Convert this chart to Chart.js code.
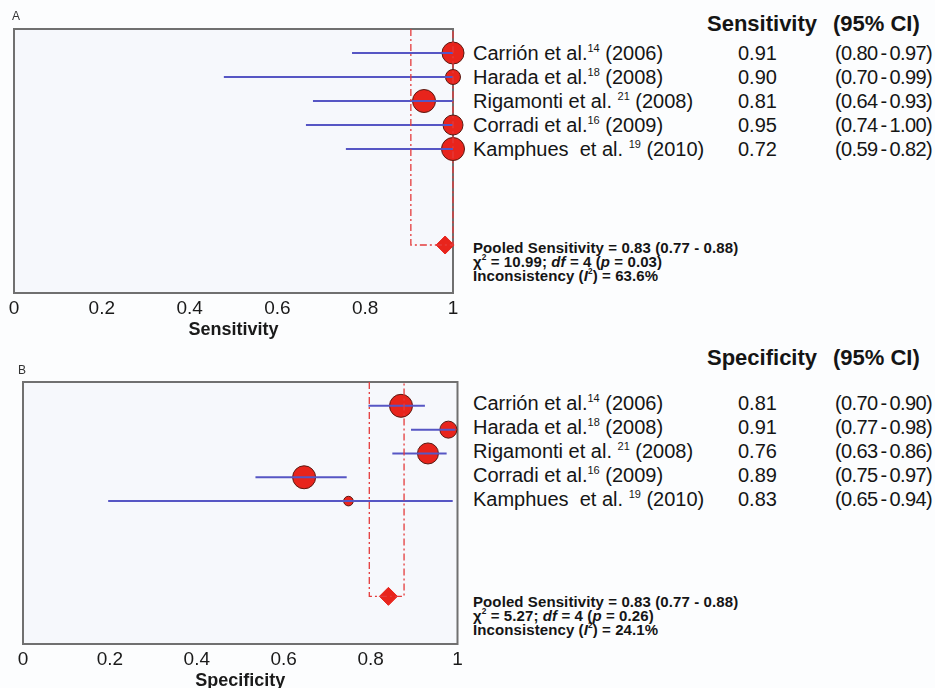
<!DOCTYPE html>
<html>
<head>
<meta charset="utf-8">
<script src="https://cdn.jsdelivr.net/npm/chart.js@4.4.1/dist/chart.umd.min.js"></script>
<style>
  body { margin: 0; background: #fcfdfe; font-family: 'Liberation Sans', Arial, sans-serif; color: #151515; }
  #wrap { position: relative; width: 935px; height: 688px; overflow: hidden; }
  canvas { position: absolute; left: 0; }
  .t { position: absolute; white-space: pre; line-height: 1; }
  .t sup { font-size: 55%; vertical-align: 0; position: relative; top: -0.75em; }
  .hdr { font-weight: bold; font-size: 22px; }
  .row { font-size: 20px; }
  .ci { font-size: 20px; word-spacing: -2px; letter-spacing: -0.6px; }
  .pool { font-weight: bold; font-size: 15px; letter-spacing: 0.1px; }
  .panel { font-size: 12px; color: #333; }
</style>
</head>
<body>
<div id="wrap">
  <canvas id="chartA"></canvas>
  <canvas id="chartB"></canvas>
</div>
<script>
// studies (shared by both panels)
const studies = ['Carrión et al.', 'Harada et al.', 'Rigamonti et al. ', 'Corradi et al.', 'Kamphues  et al. '];
const refs = ['14', '18', '21', '16', '19'];
const years = ['2006', '2008', '2008', '2009', '2010'];

// table columns as printed
const sensText = ['0.91', '0.90', '0.81', '0.95', '0.72'];
const sensCIText = ['(0.80 - 0.97)', '(0.70 - 0.99)', '(0.64 - 0.93)', '(0.74 - 1.00)', '(0.59 - 0.82)'];
const specText = ['0.81', '0.91', '0.76', '0.89', '0.83'];
const specCIText = ['(0.70 - 0.90)', '(0.77 - 0.98)', '(0.63 - 0.86)', '(0.75 - 0.97)', '(0.65 - 0.94)'];

// plotted marks, as drawn in the figure
const sensPoint = [1.0, 1.0, 0.934, 1.0, 1.0];
const sensLow = [0.770, 0.478, 0.681, 0.665, 0.756];
const sensHigh = [1.0, 1.0, 1.0, 1.0, 1.0];
const sensWeight = [11, 7.5, 11.5, 10, 11.5];
const sensPooled = 0.982;
const sensPooledLow = 0.904;
const sensPooledHigh = 1.0;

const specPoint = [0.870, 0.979, 0.932, 0.647, 0.749];
const specLow = [0.795, 0.893, 0.850, 0.535, 0.196];
const specHigh = [0.925, 0.995, 0.975, 0.745, 0.989];
const specWeight = [11.5, 8.5, 10.5, 11.5, 4.8];
const specPooled = 0.841;
const specPooledLow = 0.797;
const specPooledHigh = 0.877;

const xTicks = [0, 0.2, 0.4, 0.6, 0.8, 1];

const poolRow = 9;

const boxPlugin = {
    id: 'box',
    beforeDatasetsDraw(chart) {
        const { ctx, chartArea: a } = chart;
        ctx.save();
        ctx.fillStyle = '#f6f8fc';
        ctx.fillRect(a.left, a.top, a.right - a.left, a.bottom - a.top);
        ctx.strokeStyle = '#707070';
        ctx.lineWidth = 2;
        ctx.strokeRect(a.left, a.top, a.right - a.left, a.bottom - a.top);
        ctx.restore();
    }
};

function buildForest(canvasId, top, height, padding, axisHeight, title, pts, lows, highs, weights, pooled, pLow, pHigh) {
    const canvas = document.getElementById(canvasId);
    canvas.style.top = top + 'px';
    canvas.width = 470;
    canvas.height = height;
    canvas.style.width = '470px';
    canvas.style.height = height + 'px';

    const datasets = [];
    // pooled confidence bracket
    datasets.push({
        type: 'line',
        data: [{ x: pLow, y: 0 }, { x: pLow, y: poolRow }, { x: pHigh, y: poolRow }, { x: pHigh, y: 0 }],
        borderColor: '#e43b3b',
        borderWidth: 1.3,
        borderDash: [7, 3, 2, 3],
        pointRadius: 0,
        clip: false
    });
    // study CIs
    pts.forEach((p, i) => {
        datasets.push({
            type: 'line',
            data: [{ x: lows[i], y: i + 1 }, { x: highs[i], y: i + 1 }],
            borderColor: '#5656c4',
            borderWidth: 2,
            pointRadius: 0,
            clip: false
        });
    });
    // study estimates
    datasets.push({
        type: 'bubble',
        data: pts.map((p, i) => ({ x: p, y: i + 1, r: weights[i] })),
        backgroundColor: '#e8241c',
        borderColor: '#5a1a12',
        borderWidth: 1,
        clip: false
    });
    // pooled estimate
    datasets.push({
        type: 'scatter',
        data: [{ x: pooled, y: poolRow }],
        pointStyle: 'rectRot',
        pointRadius: 9,
        backgroundColor: '#e8241c',
        borderColor: '#e8241c',
        clip: false
    });

    return new Chart(canvas, {
        type: 'scatter',
        data: { datasets },
        options: {
            responsive: false,
            animation: false,
            events: [],
            layout: { padding },
            plugins: { legend: { display: false }, tooltip: { enabled: false } },
            scales: {
                x: {
                    type: 'linear',
                    min: 0,
                    max: 1,
                    afterBuildTicks: (scale) => { scale.ticks = xTicks.map(v => ({ value: v })); },
                    afterFit: (scale) => { scale.height = axisHeight; },
                    grid: { display: false, drawTicks: false },
                    border: { display: false },
                    ticks: {
                        color: '#1a1a1a',
                        font: { family: "'Liberation Sans', Arial, sans-serif", size: 19 },
                        padding: 4,
                        maxRotation: 0,
                        callback: (v) => String(v)
                    },
                    title: {
                        display: true,
                        text: title,
                        color: '#1a1a1a',
                        font: { family: "'Liberation Sans', Arial, sans-serif", size: 18, weight: 'bold', lineHeight: 1 },
                        padding: { top: 0, bottom: 4 }
                    }
                },
                y: {
                    display: false,
                    reverse: true,
                    min: 0,
                    max: 11
                }
            }
        },
        plugins: [boxPlugin]
    });
}

buildForest('chartA', 0, 345, { left: 14, right: 17, top: 29, bottom: 2 }, 50, 'Sensitivity',
    sensPoint, sensLow, sensHigh, sensWeight, sensPooled, sensPooledLow, sensPooledHigh);
buildForest('chartB', 345, 349, { left: 23, right: 8, top: 37, bottom: 0 }, 50, 'Specificity',
    specPoint, specLow, specHigh, specWeight, specPooled, specPooledLow, specPooledHigh);

// text columns
const wrap = document.getElementById('wrap');
function addText(html, cls, left, centerY, size) {
    const d = document.createElement('div');
    d.className = 't ' + cls;
    d.innerHTML = html;
    d.style.left = left + 'px';
    d.style.top = (centerY - size / 2) + 'px';
    wrap.appendChild(d);
}

function addTable(header, values, cis, headerY, firstRowY, pooledLines, pooledY) {
    addText(header, 'hdr', 707, headerY, 22);
    addText('(95% CI)', 'hdr', 833, headerY, 22);
    studies.forEach((s, i) => {
        const y = firstRowY + i * 24;
        addText(s + '<sup>' + refs[i] + '</sup> (' + years[i] + ')', 'row', 473, y, 20);
        addText(values[i], 'row', 738, y, 20);
        addText(cis[i], 'ci', 835, y, 20);
    });
    pooledLines.forEach((l, i) => addText(l, 'pool', 473, pooledY + i * 14, 15));
}

addText('A', 'panel', 12, 16, 12);
addText('B', 'panel', 18, 370, 12);

addTable('Sensitivity', sensText, sensCIText, 24, 53, [
    'Pooled Sensitivity = 0.83 (0.77 - 0.88)',
    'χ<sup>2</sup> = 10.99; <i>df</i> = 4 (<i>p</i> = 0.03)',
    'Inconsistency (<i>I</i><sup>2</sup>) = 63.6%'
], 247);
addTable('Specificity', specText, specCIText, 358, 403, [
    'Pooled Sensitivity = 0.83 (0.77 - 0.88)',
    'χ<sup>2</sup> = 5.27; <i>df</i> = 4 (<i>p</i> = 0.26)',
    'Inconsistency (<i>I</i><sup>2</sup>) = 24.1%'
], 601);
</script>
</body>
</html>
